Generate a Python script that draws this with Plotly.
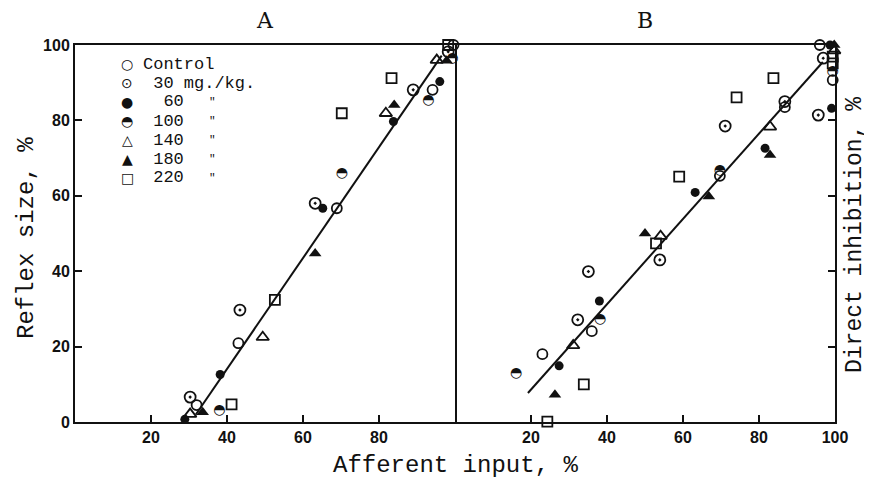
import plotly.graph_objects as go

# ---------------- data ----------------
series_names = ["Control", "30 mg./kg.", "60", "100", "140", "180", "220"]

# Panel A : Afferent input (%) vs Reflex size (%)
a_control_x = [32.0, 43.0, 68.9, 94.1, 99.6]
a_control_y = [4.5, 20.9, 56.7, 88.1, 100.0]
a_30_x = [30.3, 43.4, 63.2, 89.0, 98.2]
a_30_y = [6.6, 29.7, 58.0, 88.1, 98.2]
a_60_x = [28.9, 38.2, 65.2, 83.8, 96.0]
a_60_y = [0.7, 12.6, 56.7, 79.7, 90.3]
a_100_x = [38.0, 70.2, 93.0, 99.3]
a_100_y = [3.0, 65.8, 85.2, 96.5]
a_140_x = [30.3, 49.4, 81.8, 95.2]
a_140_y = [2.1, 22.5, 81.9, 96.0]
a_180_x = [33.6, 63.2, 84.0, 97.8]
a_180_y = [2.6, 44.7, 84.1, 95.8]
a_220_x = [41.2, 52.6, 70.2, 83.3, 98.2]
a_220_y = [4.7, 32.4, 81.9, 91.2, 100.0]
a_fit_x = [31.8, 96.5]
a_fit_y = [2.0, 97.2]

# Panel B : Afferent input (%) vs Direct inhibition (%)
b_control_x = [23.0, 36.0, 69.7, 86.8, 96.0, 99.4]
b_control_y = [18.0, 24.1, 65.3, 83.5, 100.0, 90.7]
b_30_x = [32.3, 35.1, 53.9, 71.1, 86.8, 95.6, 96.9]
b_30_y = [27.1, 39.9, 43.0, 78.5, 85.0, 81.4, 96.5]
b_60_x = [27.4, 38.0, 63.2, 81.6, 99.1, 98.7]
b_60_y = [14.9, 32.1, 60.9, 72.6, 83.2, 100.0]
b_100_x = [16.1, 38.2, 69.7, 99.4]
b_100_y = [12.9, 27.1, 66.8, 92.9]
b_140_x = [31.1, 54.1, 82.9, 99.8]
b_140_y = [20.3, 49.3, 78.3, 98.5]
b_180_x = [26.3, 50.0, 66.8, 82.9, 99.8]
b_180_y = [7.2, 50.0, 59.8, 70.8, 100.0]
b_220_x = [24.3, 33.9, 52.9, 59.0, 74.1, 83.8, 99.4, 99.4]
b_220_y = [0.1, 10.0, 47.4, 65.1, 86.1, 91.2, 96.9, 95.1]
b_fit_x = [19.2, 96.8]
b_fit_y = [7.7, 95.5]

a_ticks = [20, 40, 60, 80]
b_ticks = [20, 40, 60, 80, 100]
y_ticks = [0, 20, 40, 60, 80, 100]

# ---------------- styling ----------------
INK = "#111111"
MONO = "Liberation Mono, DejaVu Sans Mono, monospace"
TICKF = dict(family="Liberation Sans, Arial, sans-serif", size=16, color=INK, weight="bold")
GLYPH = "DejaVu Sans, sans-serif"

marker_styles = {
    "Control": dict(symbol="circle-open", size=10, color=INK, line=dict(width=1.8, color=INK)),
    "30 mg./kg.": dict(symbol="circle-open-dot", size=11, color=INK, line=dict(width=1.8, color=INK)),
    "60": dict(symbol="circle", size=9, color=INK, line=dict(width=0)),
    "140": dict(symbol="triangle-up-open", size=11, color=INK, line=dict(width=1.8, color=INK)),
    "180": dict(symbol="triangle-up", size=11, color=INK, line=dict(width=0)),
    "220": dict(symbol="square-open", size=10, color=INK, line=dict(width=1.8, color=INK)),
}

fig = go.Figure()

# regression lines
fig.add_trace(go.Scatter(x=a_fit_x, y=a_fit_y, mode="lines", line=dict(color=INK, width=2),
                         xaxis="x", yaxis="y", showlegend=False, hoverinfo="skip"))
fig.add_trace(go.Scatter(x=b_fit_x, y=b_fit_y, mode="lines", line=dict(color=INK, width=2),
                         xaxis="x2", yaxis="y2", showlegend=False, hoverinfo="skip"))

panel_a = {
    "Control": (a_control_x, a_control_y), "30 mg./kg.": (a_30_x, a_30_y), "60": (a_60_x, a_60_y),
    "100": (a_100_x, a_100_y), "140": (a_140_x, a_140_y), "180": (a_180_x, a_180_y),
    "220": (a_220_x, a_220_y),
}
panel_b = {
    "Control": (b_control_x, b_control_y), "30 mg./kg.": (b_30_x, b_30_y), "60": (b_60_x, b_60_y),
    "100": (b_100_x, b_100_y), "140": (b_140_x, b_140_y), "180": (b_180_x, b_180_y),
    "220": (b_220_x, b_220_y),
}

for panel, xa, ya in [(panel_a, "x", "y"), (panel_b, "x2", "y2")]:
    for name in series_names:
        xs, ys = panel[name]
        if name == "100":
            # half-filled circle drawn as a glyph
            fig.add_trace(go.Scatter(x=xs, y=ys, mode="text", text=["\u25D3"] * len(xs),
                                     textposition="middle center",
                                     textfont=dict(family=GLYPH, size=14, color=INK),
                                     xaxis=xa, yaxis=ya, showlegend=False, cliponaxis=False,
                                     name=name))
        else:
            fig.add_trace(go.Scatter(x=xs, y=ys, mode="markers", marker=marker_styles[name],
                                     xaxis=xa, yaxis=ya, showlegend=False, cliponaxis=False,
                                     name=name))

# ---------------- layout geometry (window pixels; page body has an 8px margin) ----------------
PAGE_OFF = 8
PLOT_L, PLOT_R, PLOT_T, PLOT_B = 75, 835, 45, 422
W, H = 872 - PAGE_OFF, 484 - PAGE_OFF
PW, PH = PLOT_R - PLOT_L, PLOT_B - PLOT_T


def px(x):
    return (x - PLOT_L) / PW


def py(y):
    return (PLOT_B - y) / PH


# ---------------- legend (text) ----------------
legend_glyphs = ["\u25CB", "\u2299", "\u25CF", "\u25D3", "\u25B3", "\u25B2", "\u25A1"]
legend_labels = ["Control", " 30 mg./kg.", "  60", " 100", " 140", " 180", " 220"]
legend_ditto = ["", "", "\"", "\"", "\"", "\"", "\""]
annotations = []
for i, (g, lab, d) in enumerate(zip(legend_glyphs, legend_labels, legend_ditto)):
    yy = py(64 + i * 19)
    annotations.append(dict(x=px(127), y=yy, xref="paper", yref="paper", text=g,
                            showarrow=False, xanchor="center", yanchor="middle",
                            font=dict(family=GLYPH, size=14, color=INK)))
    annotations.append(dict(x=px(141), y=yy, xref="paper", yref="paper", text=lab,
                            showarrow=False, xanchor="left", yanchor="middle",
                            font=dict(family=MONO, size=17, color=INK)))
    if d:
        annotations.append(dict(x=px(212), y=yy, xref="paper", yref="paper", text=d,
                                showarrow=False, xanchor="center", yanchor="middle",
                                font=dict(family=MONO, size=11, color=INK)))

# panel titles
annotations.append(dict(x=0.25, y=py(20), xref="paper", yref="paper", text="A",
                        showarrow=False, xanchor="center", yanchor="middle",
                        font=dict(family="DejaVu Serif, serif", size=22, color=INK)))
annotations.append(dict(x=0.75, y=py(20), xref="paper", yref="paper", text="B",
                        showarrow=False, xanchor="center", yanchor="middle",
                        font=dict(family="DejaVu Serif, serif", size=22, color=INK)))
# axis titles
annotations.append(dict(x=0.5, y=py(465), xref="paper", yref="paper",
                        text="Afferent input, %", showarrow=False, xanchor="center", yanchor="middle",
                        font=dict(family=MONO, size=24, color=INK)))
annotations.append(dict(x=px(26), y=py(238), xref="paper", yref="paper",
                        text="Reflex size, %", showarrow=False, textangle=-90,
                        xanchor="center", yanchor="middle",
                        font=dict(family=MONO, size=24, color=INK)))
annotations.append(dict(x=px(855), y=py(235), xref="paper", yref="paper",
                        text="Direct inhibition, %", showarrow=False, textangle=-90,
                        xanchor="center", yanchor="middle",
                        font=dict(family=MONO, size=23, color=INK)))

axis_common = dict(showgrid=False, zeroline=False, showline=True, linecolor=INK, linewidth=2,
                   ticks="inside", ticklen=7, tickwidth=1.5, tickcolor=INK, tickfont=TICKF)

fig.update_layout(
    width=W, height=H,
    margin=dict(l=PLOT_L - PAGE_OFF, r=872 - PLOT_R, t=PLOT_T - PAGE_OFF, b=484 - PLOT_B),
    paper_bgcolor="white", plot_bgcolor="white",
    showlegend=False,
    xaxis=dict(domain=[0, 0.5], range=[0, 100], tickvals=a_ticks, mirror=True, anchor="y", **axis_common),
    xaxis2=dict(domain=[0.5, 1], range=[0, 100], tickvals=b_ticks, mirror=True, anchor="y2", **axis_common),
    yaxis=dict(range=[0, 100], tickvals=y_ticks, anchor="x", mirror=True, **axis_common),
    yaxis2=dict(range=[0, 100], tickvals=y_ticks, anchor="x2", side="right", showticklabels=False,
                **axis_common),
    annotations=annotations,
)

fig.write_html("out.html")
